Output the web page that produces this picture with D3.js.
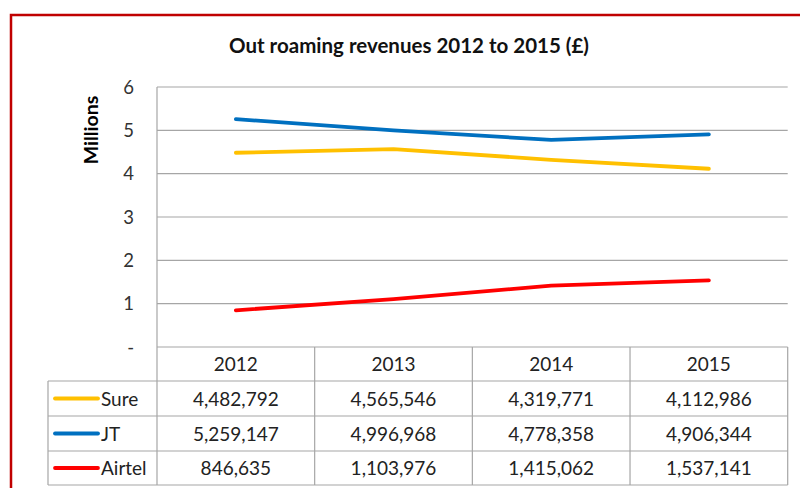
<!DOCTYPE html>
<html><head><meta charset="utf-8">
<script src="https://cdn.jsdelivr.net/npm/d3@7"></script>
<style>body{margin:0;background:#fff}svg{display:block}text{font-family:Lato,"Open Sans",sans-serif}</style>
</head><body>
<svg id="c" width="800" height="488"></svg>
<script>
const years = ["2012","2013","2014","2015"];
const seriesNames = ["Sure","JT","Airtel"];
const sure = [4482792,4565546,4319771,4112986];
const jt = [5259147,4996968,4778358,4906344];
const airtel = [846635,1103976,1415062,1537141];
const colors = ["#FFC000","#0070C0","#FF0000"];
const yTicks = [0,1,2,3,4,5,6];
const data = [sure,jt,airtel];

const svg = d3.select("#c");
const L=157, R=787.7, T=87, B=347;
const rowH=[34,35,35,34];
const grid="#a6a6a6";

// border
svg.append("rect").attr("x",11).attr("y",15).attr("width",800).attr("height",500)
  .attr("fill","none").attr("stroke","#C00000").attr("stroke-width",2.5);

svg.append("text").attr("x",409).attr("y",53).attr("text-anchor","middle")
  .attr("font-weight","bold").attr("font-size",20.5).attr("fill","#111")
  .text("Out roaming revenues 2012 to 2015 (£)");

const x = d3.scaleBand().domain(years).range([L,R]);
const y = d3.scaleLinear().domain([0,6]).range([B,T]);

// gridlines
svg.append("g").selectAll("line").data(yTicks.filter(d=>d>0)).join("line")
  .attr("x1",L).attr("x2",R).attr("y1",d=>y(d)).attr("y2",d=>y(d))
  .attr("stroke",grid).attr("stroke-width",1.2);
svg.append("line").attr("x1",L).attr("x2",L).attr("y1",T).attr("y2",B).attr("stroke",grid).attr("stroke-width",1.2);

// y labels
svg.append("g").selectAll("text").data(yTicks).join("text")
  .attr("x",134).attr("y",d=>y(d)+6.5).attr("text-anchor","end")
  .attr("font-size",18.5).attr("fill","#333")
  .text(d=>d===0?"-":d);

svg.append("text").attr("transform","translate(98,130) rotate(-90)")
  .attr("text-anchor","middle").attr("font-weight","bold").attr("font-size",19.5).attr("fill","#000")
  .text("Millions");

// lines
const line = d3.line().x((d,i)=>x(years[i])+x.bandwidth()/2).y(d=>y(d/1e6));
svg.append("g").selectAll("path").data(data).join("path")
  .attr("d",d=>line(d)).attr("fill","none").attr("stroke",(d,i)=>colors[i])
  .attr("stroke-width",3.8).attr("stroke-linecap","round").attr("stroke-linejoin","round");

// table
const tL=48;
const y0=B, y1=B+rowH[0];
const rowTops=[y1, y1+rowH[1], y1+rowH[1]+rowH[2]];
const tB=y1+rowH[1]+rowH[2]+rowH[3];
const tg=svg.append("g").attr("stroke",grid).attr("stroke-width",1.2);
tg.append("line").attr("x1",L).attr("x2",R).attr("y1",y0).attr("y2",y0);
[y1,...rowTops.slice(1),tB].forEach(v=>tg.append("line").attr("x1",tL).attr("x2",R).attr("y1",v).attr("y2",v));
const xs=[L,...years.map(yr=>x(yr)+x.bandwidth())];
xs.forEach(v=>tg.append("line").attr("x1",v).attr("x2",v).attr("y1",y0).attr("y2",tB));
tg.append("line").attr("x1",tL).attr("x2",tL).attr("y1",y1).attr("y2",tB);

svg.append("g").selectAll("text").data(years).join("text")
  .attr("x",d=>x(d)+x.bandwidth()/2).attr("y",y0+rowH[0]/2+7).attr("text-anchor","middle")
  .attr("font-size",19).attr("fill","#222").text(d=>d);

const fmt=d3.format(",");
seriesNames.forEach((s,i)=>{
  const top=rowTops[i], h=rowH[i+1], cy=top+h/2;
  svg.append("line").attr("x1",55).attr("x2",98).attr("y1",cy).attr("y2",cy)
    .attr("stroke",colors[i]).attr("stroke-width",3.8).attr("stroke-linecap","round");
  svg.append("text").attr("x",101).attr("y",cy+7).attr("font-size",19).attr("fill","#222").text(s);
  svg.append("g").selectAll("text").data(data[i]).join("text")
    .attr("x",(d,j)=>x(years[j])+x.bandwidth()/2).attr("y",cy+7).attr("text-anchor","middle")
    .attr("font-size",19).attr("fill","#222").text(d=>fmt(d));
});
</script>
</body></html>
